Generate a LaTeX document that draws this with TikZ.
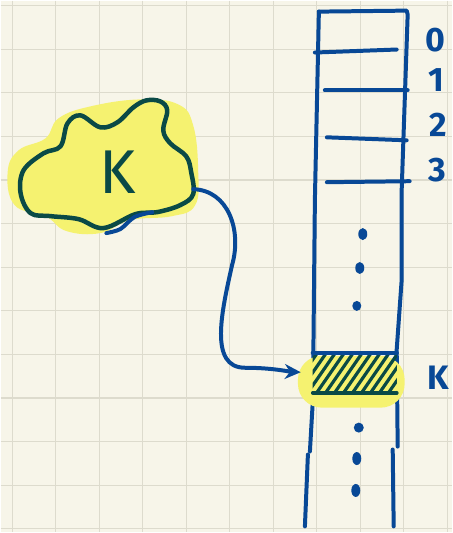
\documentclass[tikz,border=0pt]{standalone}
\usepackage{fontspec}
\setsansfont{Fira Sans}
\usetikzlibrary{arrows.meta, positioning, calc}
\definecolor{paper}{RGB}{247,245,233}
\definecolor{gridline}{RGB}{221,219,205}
\definecolor{penblue}{RGB}{8,72,150}
\definecolor{pengreen}{RGB}{10,74,70}
\definecolor{marker}{RGB}{245,242,112}

\begin{document}
\begin{tikzpicture}[x=1pt, y=-1pt,
  pen/.style={penblue, line width=4pt, line cap=round, line join=round},
  ink/.style={pengreen, line width=4.5pt, line cap=round, line join=round},
  idx/.style={penblue, font=\sffamily\bfseries\fontsize{34}{34}\selectfont, inner sep=0pt}]
  % Paper and grid
  \fill[paper] (0,0) rectangle (452,533);
  \foreach \x in {0,...,10} \draw[gridline, line width=1.3pt] ({11.7+43.6*\x},0) -- ({11.7+43.6*\x},533);
  \foreach \y in {0,...,12} \draw[gridline, line width=1.3pt] (0,{5+43.7*\y}) -- (452,{5+43.7*\y});
  \useasboundingbox (0,0) rectangle (452,533);
  % Key cloud
  \fill[marker] plot[smooth cycle, tension=0.7] coordinates {(7,172) (18,150) (45,138) (58,118) (90,106) (140,99) (178,104) (193,125) (198,170) (195,205) (172,216) (130,220) (100,233) (66,231) (45,216) (14,205)};
  \draw[ink] plot[smooth cycle, tension=0.6] coordinates {(100,127) (80,115) (67,123) (60,146) (43,153) (23,170) (20,193) (30,213) (50,216) (78,219) (103,228) (135,214) (157,212) (180,205) (193,194) (191,172) (186,156) (170,143) (163,130) (167,110) (160,101) (146,100) (133,107) (117,122)};
  \draw[pen] plot[smooth] coordinates {(106,233) (120,229) (134,217) (152,212)};
  \node[pengreen, font=\sffamily\fontsize{62}{62}\selectfont, inner sep=0pt] (key) at (117,172) {K};
  \coordinate (exit) at (193,189);
  % Array
  \draw[pen] (319,11) -- (407,10) -- (408,14) -- (402,190) -- (402,280) -- (397,350) -- (398,447);
  \draw[pen] (319,11) -- (315,200) -- (313,400) -- (310,452);
  \draw[pen] (308,455) -- (305,527); \draw[pen] (393,450) -- (394,527);
  \draw[pen] (315,52) -- (397,49); \draw[pen] (325,90) -- (408,90);
  \draw[pen] (327,137) -- (407,140); \draw[pen] (327,182) -- (410,181);
  \node[idx] (idx0) at (436,40) {0};
  \node[idx] (idx1) at (437,80) {1};
  \node[idx] (idx2) at (439,124) {2};
  \node[idx] (idx3) at (438,170) {3};
  % Dots
  \fill[penblue] (363,234) ellipse (4.5 and 6); \fill[penblue] (360,268) ellipse (4.5 and 6);
  \fill[penblue] (357,306) ellipse (4.5 and 5);
  \fill[penblue] (359,428) ellipse (5 and 5); \fill[penblue] (357,459) ellipse (4.5 and 6.5);
  \fill[penblue] (356,491) ellipse (4.5 and 6.5);
  % Slot of K
  \fill[marker, rounded corners=24pt] (298,356) rectangle (405,408);
  \node[inner sep=0pt, minimum width=84pt, minimum height=40pt] (slotk) at (355,373) {};
  \begin{scope}
    \clip (slotk.south west) rectangle (slotk.north east);
    \foreach \i in {0,...,14} \draw[pengreen, line width=3.2pt] ({285+9*\i},400) -- ++(36,-52);
  \end{scope}
  \draw[pen] (slotk.north west) -- (slotk.north east);
  \draw[ink, line width=3.5pt] (slotk.south west) -- (slotk.south east);
  \node[idx] (keyidx) at (439,378) {K};
  % Hash arrow
  \draw[pen, shorten >=12pt, -{Stealth[length=16pt, width=15pt]}] (exit) .. controls (228,190) and (242,230) .. (232,265) .. controls (222,310) and (208,368) .. (245,368) .. controls (272,368) and (290,372) .. (slotk.west);
\end{tikzpicture}
\end{document}
